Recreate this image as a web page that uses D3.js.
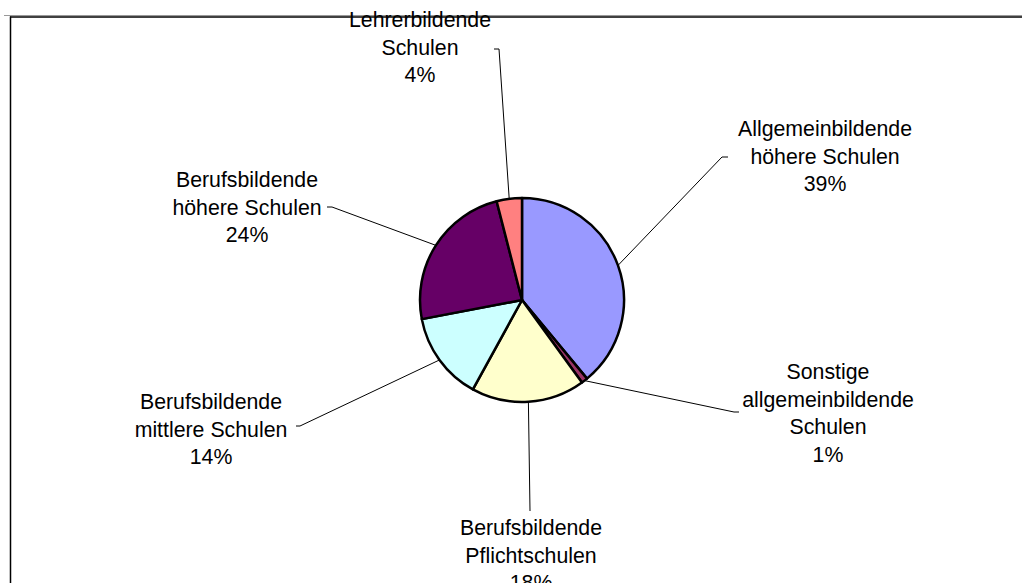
<!DOCTYPE html>
<html>
<head>
<meta charset="utf-8">
<script src="https://cdn.jsdelivr.net/npm/d3@7"></script>
<style>
  body { margin: 0; background: #fff; }
  svg { display: block; }
  text { font-family: "Liberation Sans", Arial, sans-serif; font-size: 21.3px; fill: #000; }
</style>
</head>
<body>
<div id="chart"></div>
<script>
// Schulformen, Anteil in Prozent
const categories = [
    'Allgemeinbildende höhere Schulen',
    'Sonstige allgemeinbildende Schulen',
    'Berufsbildende Pflichtschulen',
    'Berufsbildende mittlere Schulen',
    'Berufsbildende höhere Schulen',
    'Lehrerbildende Schulen'
];
const values = [39, 1, 18, 14, 24, 4];
const labelLines = [
    ['Allgemeinbildende', 'höhere Schulen', '39%'],
    ['Sonstige', 'allgemeinbildende', 'Schulen', '1%'],
    ['Berufsbildende', 'Pflichtschulen', '18%'],
    ['Berufsbildende', 'mittlere Schulen', '14%'],
    ['Berufsbildende', 'höhere Schulen', '24%'],
    ['Lehrerbildende', 'Schulen', '4%']
];
const colors = ['#9999FF', '#993366', '#FFFFCC', '#CCFFFF', '#660066', '#FF8080'];

// layout: label centre x, first baseline, leader elbow and tick end
const labelLayout = [
    { x: 825, y: 136, elbow: [722, 157], tick: [728, 157] },
    { x: 828, y: 379, elbow: [734, 412], tick: [739, 412] },
    { x: 531, y: 535, elbow: [530, 511], tick: [530, 511] },
    { x: 211, y: 409, elbow: [300, 426], tick: [296, 426] },
    { x: 247, y: 187, elbow: [332, 207], tick: [327, 207] },
    { x: 420, y: 27, elbow: [499, 49], tick: [494, 49] }
];

const width = 1022, height = 583;
const cx = 522, cy = 300, radius = 102;
const lineHeight = 27.5;

const svg = d3.select('#chart').append('svg')
    .attr('width', width)
    .attr('height', height);

// chart area frame (only top and left edges visible)
svg.append('line')
    .attr('x1', 4).attr('x2', width).attr('y1', 15.5).attr('y2', 15.5)
    .attr('stroke', '#999').attr('stroke-width', 1);
svg.append('line')
    .attr('x1', 10).attr('x2', width).attr('y1', 17).attr('y2', 17)
    .attr('stroke', '#000').attr('stroke-width', 1.5);
svg.append('line')
    .attr('x1', 10.5).attr('x2', 10.5).attr('y1', 16.5).attr('y2', height)
    .attr('stroke', '#000').attr('stroke-width', 1.5);

const pie = d3.pie().sort(null).value(d => d)
    .startAngle(0).endAngle(2 * Math.PI);
const arcs = pie(values);

const arc = d3.arc().innerRadius(0).outerRadius(radius);
const edge = d3.arc().innerRadius(radius).outerRadius(radius);

const g = svg.append('g').attr('transform', `translate(${cx},${cy})`);

g.selectAll('path')
    .data(arcs)
    .join('path')
    .attr('d', arc)
    .attr('fill', (d, i) => colors[i])
    .attr('stroke', '#000')
    .attr('stroke-width', 2.5)
    .attr('stroke-linejoin', 'round');

// leader lines
svg.append('g')
    .selectAll('polyline')
    .data(arcs)
    .join('polyline')
    .attr('points', (d, i) => {
        const p = edge.centroid(d);
        const l = labelLayout[i];
        return [[cx + p[0], cy + p[1]], l.elbow, l.tick].map(q => q.join(',')).join(' ');
    })
    .attr('fill', 'none')
    .attr('stroke', '#000')
    .attr('stroke-width', 1);

// labels
const labels = svg.append('g')
    .selectAll('text')
    .data(arcs)
    .join('text')
    .attr('text-anchor', 'middle')
    .attr('x', (d, i) => labelLayout[i].x)
    .attr('y', (d, i) => labelLayout[i].y);

labels.selectAll('tspan')
    .data((d, i) => labelLines[i].map(t => ({ t, x: labelLayout[i].x })))
    .join('tspan')
    .attr('x', d => d.x)
    .attr('dy', (d, j) => j === 0 ? 0 : lineHeight)
    .text(d => d.t);
</script>
</body>
</html>
